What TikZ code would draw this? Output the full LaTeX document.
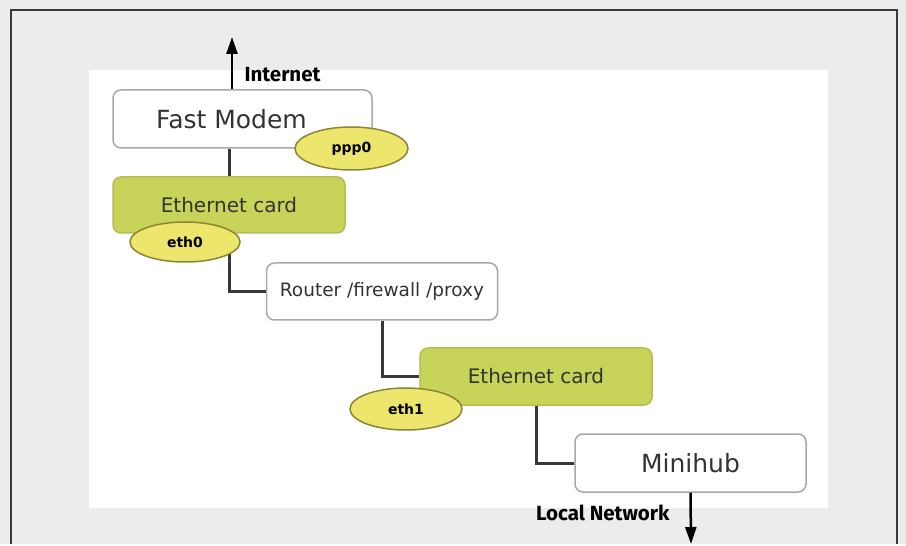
\documentclass[tikz,border=0pt]{standalone}
\usepackage{fontspec}
\setmainfont{DejaVu Sans}
\newfontfamily\labelfont{Fira Sans}
\usetikzlibrary{arrows.meta,shapes.geometric}

\definecolor{bggray}{HTML}{EBECEE}
\definecolor{framegray}{HTML}{3A3A3A}
\definecolor{boxgray}{HTML}{A8A8A8}
\definecolor{textgray}{HTML}{333333}
\definecolor{cardgreen}{HTML}{C8D35A}
\definecolor{cardedge}{HTML}{B4BE50}
\definecolor{ifaceyellow}{HTML}{EDE66C}
\definecolor{ifaceedge}{HTML}{8C8538}
\definecolor{wiregray}{HTML}{383838}

\begin{document}
\begin{tikzpicture}[x=1pt, y=-1pt,
    box/.style = {draw=boxgray, line width=1.5pt, rounded corners=8pt, fill=white,
        minimum width=231pt, minimum height=57pt, inner sep=0pt, text=textgray,
        font=\fontsize{20}{24}\selectfont},
    card/.style = {box, fill=cardgreen, draw=cardedge},
    iface/.style = {ellipse, draw=ifaceedge, line width=1.5pt, fill=ifaceyellow,
        minimum width=112pt, minimum height=42pt, inner sep=0pt,
        font=\fontsize{14}{16}\selectfont\bfseries},
    wire/.style = {draw=wiregray, line width=3pt},
    uplink/.style = {-{Triangle[length=17pt,width=11pt]}, line width=2.5pt},
    tag/.style = {font=\labelfont\bfseries\fontsize{20.5}{24}\selectfont}]

    % page, panel and frame
    \fill[bggray] (0,0) rectangle (906,544);
    \fill[white] (89,70) rectangle (828,508);
    \draw[framegray, line width=2pt] (11,544) -- (11,10) -- (897,10) -- (897,544);

    % boxes
    \node[box, minimum width=259pt, minimum height=58pt, font=\fontsize{25}{29}\selectfont] (modem) at (242.5,119) {Fast Modem\hspace*{22pt}};
    \node[card, minimum width=232pt, minimum height=56pt] (card1) at (229,205) {Ethernet card};
    \node[box, font=\fontsize{18.5}{22}\selectfont] (router) at (382,291.5) {Router /firewall /proxy};
    \node[card, minimum width=232pt] (card2) at (536,376.5) {Ethernet card};
    \node[box, minimum height=58pt, font=\fontsize{25}{29}\selectfont] (hub) at (690.5,463) {Minihub};

    % wires
    \draw[wire] (card1.north) -- (card1.north |- modem.south);
    \draw[wire] (card1.south) |- (router.west);
    \draw[wire] (router.south) |- (card2.west);
    \draw[wire] (card2.south) |- (hub.west);

    % interfaces
    \node[iface, minimum width=113pt, minimum height=43pt] (ppp0) at (351.5,148.5) {ppp0};
    \node[iface, minimum width=110pt, minimum height=40pt] (eth0) at (185,242) {eth0};
    \node[iface] (eth1) at (406,409) {eth1};

    % outside links
    \coordinate (inet) at (232,37);
    \draw[uplink] (inet |- modem.north) -- (inet);
    \node[tag, anchor=west] (inetlabel) at (241,75) {Internet};
    \coordinate (lan) at (691,544);
    \draw[uplink] (hub.south) -- (lan);
    \node[tag, anchor=east] (lanlabel) at (673,513) {Local Network};

    \useasboundingbox (0,0) rectangle (906,544);
\end{tikzpicture}
\end{document}
